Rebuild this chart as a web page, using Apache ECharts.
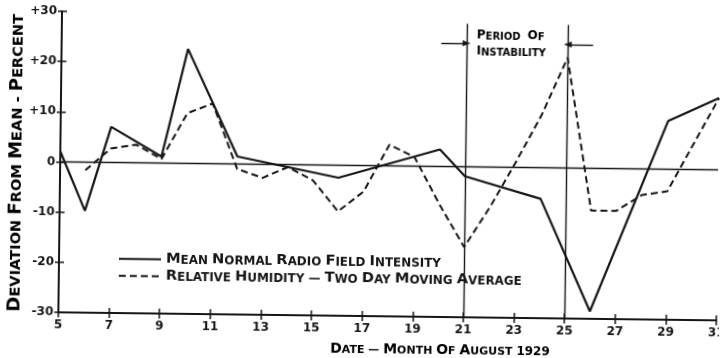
<!DOCTYPE html>
<html>
<head>
<meta charset="utf-8">
<script src="https://cdn.jsdelivr.net/npm/echarts@6/dist/echarts.min.js"></script>
<style>
  html, body { margin: 0; padding: 0; background: #ffffff; overflow: hidden; }
  /* the plate sits slightly askew on the page */
  #chart { width: 721px; height: 358px; transform: rotate(0.7deg); transform-origin: 360px 179px; }
</style>
</head>
<body>
<div id="chart"></div>
<script>
// Days of August 1929
const days = ['5','6','7','8','9','10','11','12','13','14','15','16','17','18','19','20',
              '21','22','23','24','25','26','27','28','29','30','31'];

// Mean normal radio field intensity, deviation from mean (percent); null = no plotted point
const fieldIntensity = [2.1, -9.7, 7.1, null, 1.3, 22.8, null, 1.5, null, null, null, -2.5, null, null,
                        null, 3.4, -1.9, null, null, -6.2, null, -28.5, null, null, 9.6, null, 14.3];

// Relative humidity, two day moving average, deviation from mean (percent)
const humidity = [null, -1.6, 2.8, 3.6, 0.8, 10, 12, -1, -2.7, -0.5, -3.1, -9.2, -5.2, 4.2,
                  1.8, -7.5, -16, -8, 1, 10.5, 22, -8.4, -8.4, -5.2, -4.4, null, 14.3];

const seriesNames = ['MEAN NORMAL RADIO FIELD INTENSITY', 'RELATIVE HUMIDITY \u2014 TWO DAY MOVING AVERAGE'];
const yTitle = 'DEVIATION FROM MEAN - PERCENT';
const xTitle = 'DATE \u2014 MONTH OF AUGUST 1929';
const noteLines = ['PERIOD OF', 'INSTABILITY'];

// Period of instability: bounding days, top of the marker lines, level of the arrows
const instability = ['21', '25'];
const instabilityTop = 28.5;
const arrowLevel = 24.6;
const arrowFrom = ['20', '26'];

const ink = '#161616';
const FONT = 'DejaVu Sans';

// hand-lettered small caps: first letter of each word large, the rest small
function smallCaps(text) {
  return text.split(' ').map(w => {
    if (/^[0-9]/.test(w)) return '{n|' + w + '}';
    if (/^[A-Z]/.test(w)) return '{b|' + w[0] + '}' + (w.length > 1 ? '{s|' + w.slice(1) + '}' : '');
    return '{s|' + w + '}';
  }).join('{s| }');
}
function capsRich(big, small, num) {
  const base = { fontFamily: FONT, fontWeight: 'bold', color: ink, verticalAlign: 'bottom' };
  return {
    b: Object.assign({}, base, { fontSize: big, lineHeight: big }),
    s: Object.assign({}, base, { fontSize: small, lineHeight: big }),
    n: Object.assign({}, base, { fontSize: num, lineHeight: big })
  };
}

const chart = echarts.init(document.getElementById('chart'), null, { renderer: 'canvas' });

const xBase = {
  type: 'category', data: days, boundaryGap: false, position: 'bottom'
};
const yBase = {
  type: 'value', min: -30, max: 30, interval: 10, position: 'left', splitLine: { show: false }
};

chart.setOption({
  backgroundColor: '#ffffff',
  animation: false,
  grid: { left: 60, right: 3, top: 15, bottom: 42, containLabel: false, outerBoundsMode: 'none' },
  xAxis: [
    Object.assign({}, xBase, {
      axisLine: { onZero: false, lineStyle: { color: ink, width: 2 } },
      axisTick: { show: true, interval: 1, length: 5, lineStyle: { color: ink, width: 1.5 } },
      axisLabel: { interval: 1, margin: 7, color: ink, fontFamily: FONT, fontWeight: 'bold', fontSize: 12 }
    }),
    Object.assign({}, xBase, {
      axisLine: { show: false, onZero: false },
      axisTick: { show: true, inside: true, interval: 1, length: 5, lineStyle: { color: ink, width: 1.5 } },
      axisLabel: { show: false }
    })
  ],
  yAxis: [
    Object.assign({}, yBase, {
      axisLine: { show: true, onZero: false, lineStyle: { color: ink, width: 2 } },
      axisTick: { show: true, length: 4, lineStyle: { color: ink, width: 1.5 } },
      axisLabel: {
        margin: 5, color: ink, fontFamily: FONT, fontWeight: 'bold', fontSize: 12,
        formatter: v => (v > 0 ? '+' + v : String(v))
      }
    }),
    Object.assign({}, yBase, {
      axisLine: { show: false, onZero: false },
      axisTick: { show: true, inside: true, length: 5, lineStyle: { color: ink, width: 1.5 } },
      axisLabel: { show: false }
    })
  ],
  legend: {
    orient: 'vertical', left: 114, top: 249,
    itemWidth: 42, itemHeight: 14, itemGap: 2,
    data: seriesNames,
    itemStyle: { opacity: 0 },
    formatter: name => smallCaps(name),
    textStyle: { rich: capsRich(14.7, 11.9, 11.9) },
    selectedMode: false
  },
  series: [
    {
      name: seriesNames[0], type: 'line', data: fieldIntensity,
      connectNulls: true, symbol: 'none', silent: true,
      lineStyle: { color: ink, width: 2.2, type: 'solid' },
      itemStyle: { color: ink },
      markLine: {
        silent: true, symbol: ['none', 'none'], label: { show: false },
        lineStyle: { color: ink, width: 1.4, type: 'solid' },
        data: [
          { yAxis: 0, lineStyle: { width: 1.3 } },
          [{ coord: [instability[0], instabilityTop] }, { coord: [instability[0], -30] }],
          [{ coord: [instability[1], instabilityTop] }, { coord: [instability[1], -30] }],
          [{ coord: [arrowFrom[0], arrowLevel] },
           { coord: [instability[0], arrowLevel], symbol: 'triangle', symbolSize: [6, 8] }],
          [{ coord: [arrowFrom[1], arrowLevel] },
           { coord: [instability[1], arrowLevel], symbol: 'triangle', symbolSize: [6, 8] }]
        ]
      }
    },
    {
      name: seriesNames[1], type: 'line', data: humidity,
      connectNulls: true, symbol: 'none', silent: true,
      lineStyle: { color: ink, width: 2, type: [7, 4] },
      itemStyle: { color: ink }
    }
  ],
  graphic: [
    {
      type: 'text', x: 16, y: 167, rotation: Math.PI / 2,
      style: { text: smallCaps(yTitle), rich: capsRich(18.2, 14.6, 14.6), align: 'center', verticalAlign: 'middle' }
    },
    {
      type: 'text', x: 442, y: 349,
      style: { text: smallCaps(xTitle), rich: capsRich(14, 11, 12), align: 'center', verticalAlign: 'middle' }
    },
    {
      type: 'text', x: 475, y: 34,
      style: { text: smallCaps(noteLines[0]).replace('{s| }', '{s|  }'), rich: capsRich(12, 10, 10), align: 'left', verticalAlign: 'middle' }
    },
    {
      type: 'text', x: 475, y: 50,
      style: { text: smallCaps(noteLines[1]), rich: capsRich(12, 10, 10), align: 'left', verticalAlign: 'middle' }
    }
  ]
});
</script>
</body>
</html>
